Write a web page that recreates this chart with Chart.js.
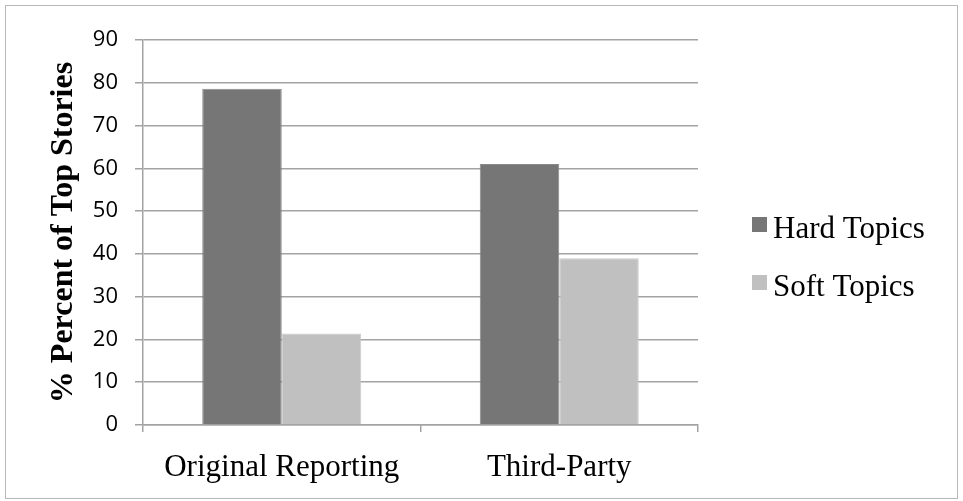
<!DOCTYPE html>
<html>
<head>
<meta charset="utf-8">
<script src="https://cdn.jsdelivr.net/npm/chart.js@4/dist/chart.umd.min.js"></script>
<style>
  html, body { margin: 0; padding: 0; background: #ffffff; }
  #frame { position: absolute; left: 5px; top: 5px; width: 951px; height: 492px; border: 1px solid #b8b8b8; }
  #wrap { position: absolute; left: 0; top: 0; width: 963px; height: 501px; }
</style>
</head>
<body>
<div id="frame"></div>
<div id="wrap"><canvas id="c" width="963" height="501"></canvas></div>
<script>
// Share of top stories by topic type, per sourcing category
const categories = ['Original Reporting', 'Third-Party'];
const hardTopics = [78.6, 61.0];
const softTopics = [21.4, 39.0];
const yTicks = [0, 10, 20, 30, 40, 50, 60, 70, 80, 90];

const serif = "'Liberation Serif', 'Times New Roman', serif";
const sans = "'Open Sans', 'DejaVu Sans', sans-serif";
const gridGray = '#a3a3a3';

// Legend drawn to the right of the plot: small square swatch + serif label
const sideLegend = {
  id: 'sideLegend',
  afterDraw(chart) {
    const ctx = chart.ctx;
    const area = chart.chartArea;
    const x0 = area.right + 54;
    const firstTop = area.top + 177;
    const step = 58;
    const box = 15;
    ctx.save();
    ctx.font = '31px ' + serif;
    ctx.textBaseline = 'alphabetic';
    ctx.textAlign = 'left';
    chart.data.datasets.forEach((ds, i) => {
      const top = firstTop + i * step;
      ctx.fillStyle = ds.backgroundColor;
      ctx.fillRect(x0, top, box, box);
      ctx.fillStyle = '#000000';
      ctx.fillText(ds.label, x0 + box + 6, top + 21);
    });
    ctx.restore();
  }
};

new Chart(document.getElementById('c'), {
  type: 'bar',
  data: {
    labels: categories,
    datasets: [
      { label: 'Hard Topics', data: hardTopics, backgroundColor: '#767676', borderColor: '#8a8a8a', borderWidth: 1, borderSkipped: 'bottom' },
      { label: 'Soft Topics', data: softTopics, backgroundColor: '#c0c0c0', borderColor: '#cacaca', borderWidth: 1, borderSkipped: 'bottom' }
    ]
  },
  plugins: [sideLegend],
  options: {
    responsive: false,
    animation: false,
    devicePixelRatio: 1,
    layout: { padding: { left: 40, top: 40, right: 265, bottom: 0 } },
    datasets: { bar: { barPercentage: 1.0, categoryPercentage: 0.573 } },
    plugins: {
      tooltip: { enabled: false },
      legend: { display: false }
    },
    scales: {
      x: {
        afterFit: (axis) => { axis.height = 76; },
        grid: { display: true, drawOnChartArea: false, drawTicks: true, tickLength: 7, color: gridGray, lineWidth: 1.5, offset: true },
        border: { display: true, color: gridGray, width: 1.5 },
        ticks: { color: '#000000', font: { family: serif, size: 31 }, padding: 17 }
      },
      y: {
        min: 0,
        max: 90,
        afterFit: (axis) => { axis.width = 103; },
        afterBuildTicks: (axis) => { axis.ticks = yTicks.map(v => ({ value: v })); },
        grid: { color: gridGray, lineWidth: 1.5, drawTicks: true, tickLength: 8 },
        border: { display: true, color: gridGray, width: 1.5 },
        ticks: { color: '#000000', font: { family: sans, size: 22 }, padding: 17 },
        title: {
          display: true,
          text: '% Percent of Top Stories',
          color: '#000000',
          font: { family: serif, size: 32, weight: 'bold' },
          padding: { top: 5, bottom: 0 }
        }
      }
    }
  }
});
</script>
</body>
</html>
